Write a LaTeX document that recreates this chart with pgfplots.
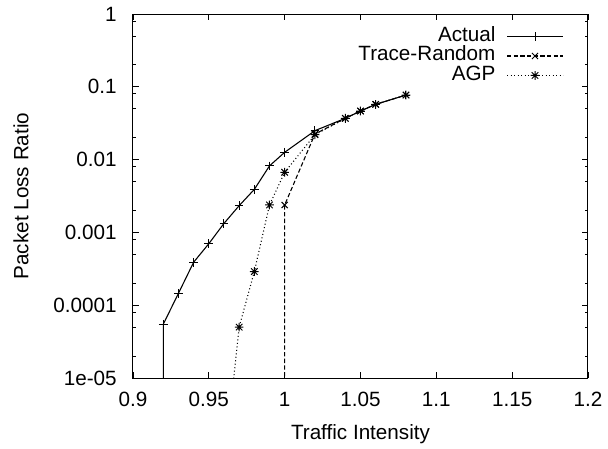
\documentclass[border=0pt]{standalone}
\usepackage{fontspec}
\setmainfont{Liberation Sans}
\usepackage{pgfplots}
\pgfplotsset{compat=1.18}

% gnuplot point type 3: a + laid over an x
\pgfdeclareplotmark{gpstar}{%
  \pgfpathmoveto{\pgfqpoint{-\pgfplotmarksize}{0pt}}%
  \pgfpathlineto{\pgfqpoint{\pgfplotmarksize}{0pt}}%
  \pgfpathmoveto{\pgfqpoint{0pt}{-\pgfplotmarksize}}%
  \pgfpathlineto{\pgfqpoint{0pt}{\pgfplotmarksize}}%
  \pgfpathmoveto{\pgfqpoint{-0.75\pgfplotmarksize}{-0.75\pgfplotmarksize}}%
  \pgfpathlineto{\pgfqpoint{0.75\pgfplotmarksize}{0.75\pgfplotmarksize}}%
  \pgfpathmoveto{\pgfqpoint{-0.75\pgfplotmarksize}{0.75\pgfplotmarksize}}%
  \pgfpathlineto{\pgfqpoint{0.75\pgfplotmarksize}{-0.75\pgfplotmarksize}}%
  \pgfusepathqstroke}

\begin{document}
\begin{tikzpicture}
    % page = 608x448 px at 0.6pt per px, axis box at (133..588, 14..378) px
    \useasboundingbox (-79.8pt,-42pt) rectangle (285pt,226.8pt);
    \begin{axis}[
        at={(0,0)}, anchor=south west,
        scale only axis,
        width=273pt, height=218.4pt,
        font=\fontsize{12.4}{12.4}\selectfont,
        ymode=log,
        xmin=0.9, xmax=1.2,
        ymin=1e-5, ymax=1,
        xtick={0.9,0.95,1,1.05,1.1,1.15,1.2},
        xticklabels={0.9,0.95,1,1.05,1.1,1.15,1.2},
        ytick={1e-5,1e-4,1e-3,1e-2,1e-1,1},
        yticklabels={1e-05,0.0001,0.001,0.01,0.1,1},
        minor ytick={2e-5,5e-5,8e-5,2e-4,5e-4,8e-4,2e-3,5e-3,8e-3,
                     2e-2,5e-2,8e-2,0.2,0.5,0.8},
        tick align=inside,
        major tick length=3.6pt,
        minor tick length=2pt,
        tick style={black, line width=0.5pt},
        axis line style={line width=0.6pt},
        xticklabel style={inner sep=0pt, yshift=-8.4pt},
        yticklabel style={inner sep=0pt, xshift=-9.6pt},
        xlabel={Traffic Intensity},
        ylabel={Packet Loss Ratio},
        xlabel style={at={(axis description cs:0.5,0)}, anchor=north,
                      inner sep=0pt, yshift=-27.6pt},
        % rotated label: yshift moves it to the left
        ylabel style={at={(axis description cs:0,0.5)}, anchor=south,
                      inner sep=0pt, yshift=62.4pt},
        legend plot pos=right,
        legend cell align=right,
        legend style={
            draw=none, fill=none,
            at={(0.947,0.966)}, anchor=north east,
            inner sep=0pt, row sep=0pt, column sep=6.6pt,
            nodes={inner sep=0pt, text height=8.8pt, text depth=2.9pt},
        },
        legend image code/.code={
            \draw[mark repeat=2,mark phase=2,#1]
                plot coordinates {(0pt,0pt) (16.8pt,0pt) (33.6pt,0pt)};
        },
        every axis plot/.append style={black, line width=0.65pt,
            mark size=2.6pt, mark options={solid, line width=0.6pt}},
    ]

    % the first point of each series lies below the axis, as in the original
    \addplot[mark=+] coordinates {
        (0.92,1e-8)
        (0.92,5.5e-5) (0.93,1.46e-4) (0.94,3.9e-4) (0.95,7.0e-4)
        (0.96,1.33e-3) (0.97,2.33e-3) (0.98,3.9e-3) (0.99,8.2e-3)
        (1.00,1.26e-2) (1.02,2.5e-2) (1.04,3.69e-2) (1.05,4.65e-2)
        (1.06,5.74e-2) (1.08,7.71e-2)
    };
    \addlegendentry{Actual}

    \addplot[mark=x, dash pattern=on 2.6pt off 1.4pt] coordinates {
        (1.00,1e-8)
        (1.00,2.38e-3) (1.02,2.25e-2) (1.04,3.69e-2) (1.05,4.65e-2)
        (1.06,5.74e-2) (1.08,7.71e-2)
    };
    \addlegendentry{Trace-Random}

    \addplot[mark=gpstar, dash pattern=on 0.6pt off 1.5pt] coordinates {
        (0.96,5.6e-7)
        (0.97,5.0e-5) (0.98,2.9e-4) (0.99,2.38e-3) (1.00,6.7e-3)
        (1.02,2.2e-2) (1.04,3.69e-2) (1.05,4.65e-2)
        (1.06,5.74e-2) (1.08,7.71e-2)
    };
    \addlegendentry{AGP}

    \end{axis}
\end{tikzpicture}
\end{document}
